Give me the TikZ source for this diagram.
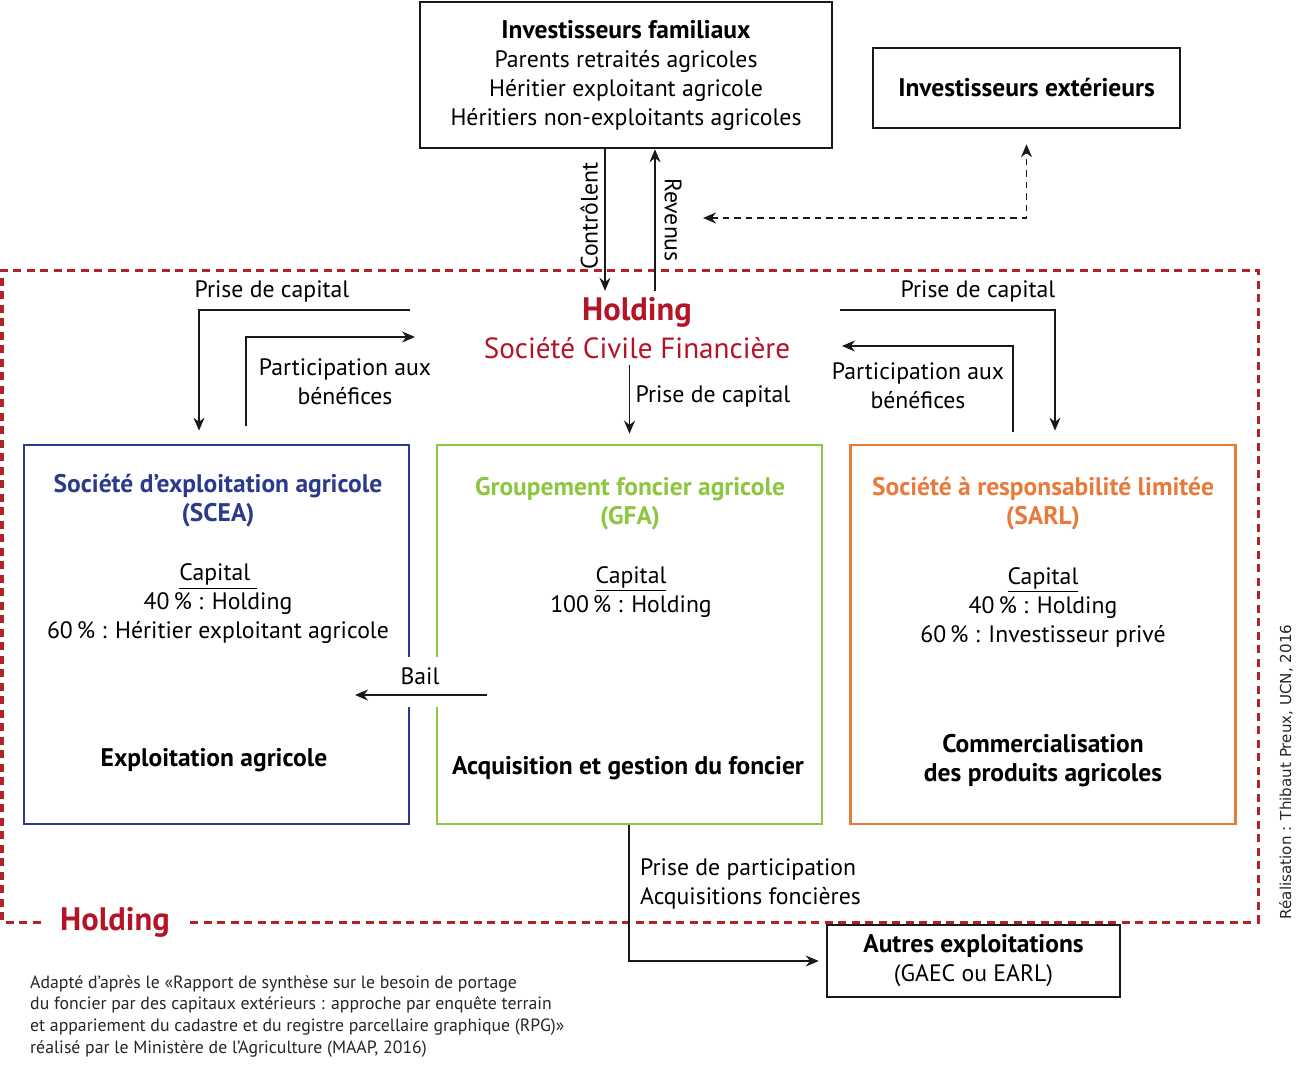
\documentclass[tikz,border=0pt]{standalone}
\usepackage{fontspec}
\setmainfont{PT Sans}
\newfontfamily\creditfont{DejaVu Sans}
\usepackage{xcolor}
\usepackage{tikz}
\usetikzlibrary{arrows.meta,positioning,calc}

\definecolor{sceablue}{RGB}{44,58,140}
\definecolor{gfagreen}{RGB}{141,198,63}
\definecolor{sarlorange}{RGB}{232,122,58}
\definecolor{holdred}{RGB}{180,20,38}
\definecolor{framered}{RGB}{178,34,40}

\newcommand\bodysize{\fontsize{13.5}{16.5}\selectfont}
\newcommand\boldsize{\fontsize{14.5}{16.5}\selectfont\bfseries}

\begin{document}
\begin{tikzpicture}[x=0.2mm,y=-0.2mm,
    >={Stealth[length=2.6mm,width=2.2mm]},
    arrow/.style={->,line width=0.25mm,draw=black!90},
    dasharrow/.style={<->,line width=0.25mm,draw=black!90,dash pattern=on 1.3mm off 1mm},
    blackbox/.style={draw=black!90,line width=0.5mm,align=center,font=\bodysize,fill=white},
    entbox/.style={draw=#1,line width=0.55mm,minimum width=77mm,minimum height=75.8mm},
    enttitle/.style={text=#1,font=\boldsize,align=center},
    body/.style={font=\bodysize,align=center},
    strong/.style={font=\boldsize,align=center},
    frame/.style={draw=framered,line width=0.6mm,dash pattern=on 1.6mm off 1.1mm}
  ]
    \useasboundingbox (0,0) rectangle (1299,1075);

    % holding frame
    \node[text=holdred,font=\fontsize{18.5}{20}\selectfont\bfseries] (holdtag) at (115,922) {Holding};
    \draw[frame] (190,922) -- (1258,922) -- (1258,270) -- (2,270) -- (2,922) -- (45,922);

    % investors
    \node[blackbox,minimum width=82.4mm,minimum height=29.2mm] (fam) at (626,75)
      {{\boldsize Investisseurs familiaux}\\Parents retraités agricoles\\Héritier exploitant agricole\\Héritiers non-exploitants agricoles};
    \node[blackbox,minimum width=61.4mm,minimum height=16mm,font=\boldsize] (ext) at (1026.5,88)
      {Investisseurs extérieurs};

    % holding
    \node[text=holdred,font=\fontsize{18.5}{22}\selectfont\bfseries] (hold) at (637,312) {Holding};
    \node[text=holdred,font=\fontsize{16.6}{22}\selectfont] (scf) at (637,348) {Société Civile Financière};

    % companies
    \node[entbox=sceablue] (scea) at (216.5,634.5) {};
    \node[entbox=gfagreen] (gfa) at (629.5,634.5) {};
    \node[entbox=sarlorange] (sarl) at (1043,634.5) {};

    \node[enttitle=sceablue] (sceat) at (218,501) {Société d’exploitation agricole\\(SCEA)};
    \node[body] (sceac) at (218,604) {\underline{Capital\ }\\40\,\% : Holding\\60\,\% : Héritier exploitant agricole};
    \node[strong] (scead) at (214,760) {Exploitation agricole};

    \node[enttitle=gfagreen] (gfat) at (630,504) {Groupement foncier agricole\\(GFA)};
    \node[body] (gfac) at (631,592) {\underline{Capital}\\100\,\% : Holding};
    \node[strong] (gfad) at (628,768) {Acquisition et gestion du foncier};

    \node[enttitle=sarlorange] (sarlt) at (1043,504) {Société à responsabilité limitée\\(SARL)};
    \node[body] (sarlc) at (1043,607) {\underline{Capital}\\40\,\% : Holding\\60\,\% : Investisseur privé};
    \node[strong] (sarld) at (1043,761) {Commercialisation\\des produits agricoles};

    \node[blackbox,minimum width=58.6mm,minimum height=14.4mm] (autres) at (973.5,961)
      {{\boldsize Autres exploitations}\\(GAEC ou EARL)};

    % family <-> holding
    \draw[arrow] (605,0 |- fam.south) -- (605,0 |- hold.north);
    \draw[arrow] (655,0 |- hold.north) -- (655,0 |- fam.south);
    \node[body,rotate=90] at (589,216) {Contrôlent};
    \node[body,rotate=-90] at (673,220) {Revenus};
    \draw[dasharrow] (703,218) -| ([yshift=-3mm]ext.south);

    % holding -> companies
    \draw[arrow] (410,310) -| ([xshift=-3.5mm,yshift=2.6mm]scea.north);
    \draw[arrow] ([xshift=5.9mm,yshift=3.6mm]scea.north) |- (415,337);
    \node[body] at (272,291) {Prise de capital};
    \node[body] at (345,382) {Participation aux\\bénéfices};

    \draw[arrow] (scf.south -| gfa.north) -- ([yshift=2mm]gfa.north);
    \node[body] at (713,396) {Prise de capital};

    \draw[arrow] (840,310) -| ([xshift=2.4mm,yshift=2.6mm]sarl.north);
    \draw[arrow] ([xshift=-6mm,yshift=2.4mm]sarl.north) |- (842,346);
    \node[body] at (978,291) {Prise de capital};
    \node[body] at (918,386) {Participation aux\\bénéfices};

    % bail
    \fill[white] (398,657) rectangle (448,707);
    \coordinate (bailfrom) at (487,695);
    \coordinate (bailto) at (355,695);
    \draw[arrow] (bailfrom) -- (bailto);
    \node[body] at (420,676) {Bail};

    % other farms
    \draw[arrow,shorten >=1.4mm] (629,0 |- gfa.south) |- (autres.west);
    \node[body,align=left,anchor=west] at (634,883.5) {Prise de participation\\Acquisitions foncières};

    % credits
    \node[rotate=90,font=\creditfont\fontsize{8.6}{11}\selectfont,text=black!85] at (1286,772)
      {Réalisation : Thibaut Preux, UCN, 2016};
    \node[anchor=north west,align=left,font=\fontsize{10.1}{12.5}\selectfont,text=black!85] at (24,969)
      {Adapté d’après le «Rapport de synthèse sur le besoin de portage\\
       du foncier par des capitaux extérieurs : approche par enquête terrain\\
       et appariement du cadastre et du registre parcellaire graphique (RPG)»\\
       réalisé par le Ministère de l’Agriculture (MAAP, 2016)};
  \end{tikzpicture}
\end{document}
